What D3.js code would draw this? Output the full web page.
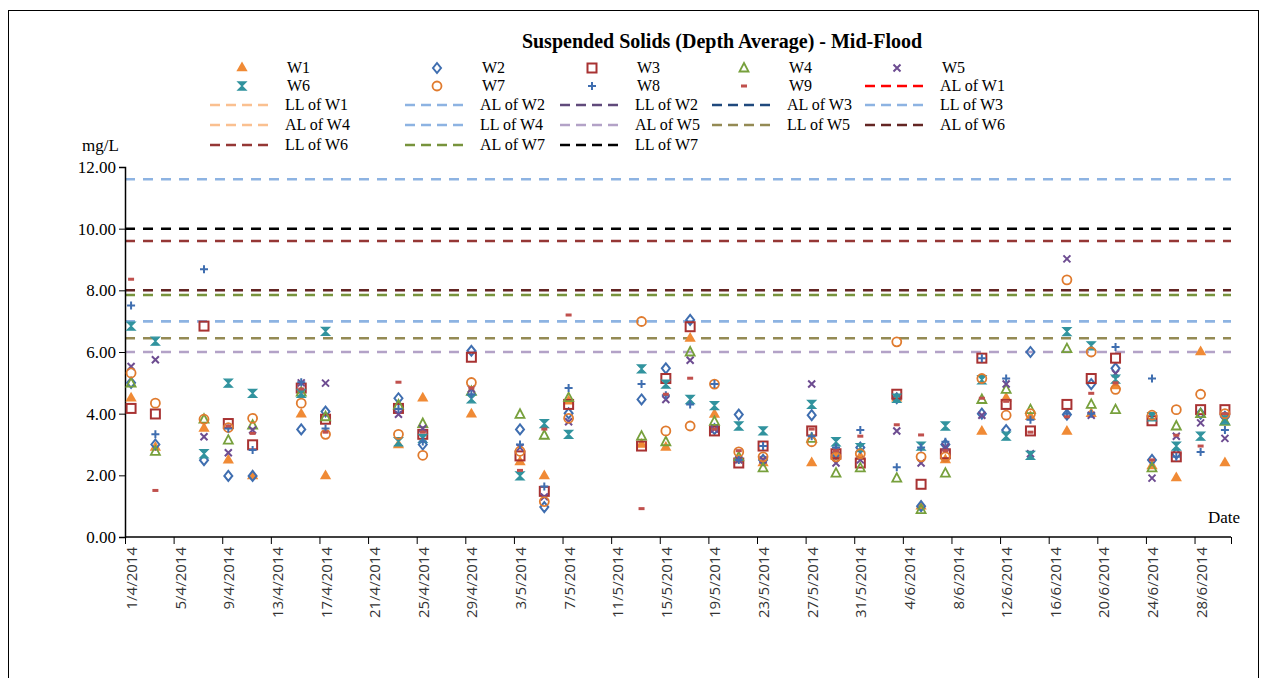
<!DOCTYPE html>
<html>
<head>
<meta charset="utf-8">
<script src="https://cdn.jsdelivr.net/npm/d3@7"></script>
<style>
body { margin: 0; background: #fff; }
svg { font-family: "Liberation Serif", "Times New Roman", serif; }
</style>
</head>
<body>
<svg id="chart" width="1268" height="678"></svg>
<script>
// sampling days, counted from 1/4/2014
var days = [0, 2, 6, 8, 10, 14, 16, 22, 24, 28, 32, 34, 36, 42, 44, 46, 48, 50, 52, 56, 58, 60, 63, 65, 67, 70, 72, 74, 77, 79, 81, 84, 86, 88, 90];

var W1 = [4.5, 2.9, 3.52, 2.49, 1.98, 3.98, 1.98, 2.98, 4.5, 3.98, 2.43, 1.98, 4.4, 3.0, 2.9, 6.44, 3.97, 2.5, 2.4, 2.4, 2.6, 2.6, 4.5, 1.0, 2.5, 3.42, 4.5, 3.9, 3.42, 4.0, 4.9, 2.3, 1.91, 6.0, 2.4];
var W2 = [5.0, 3.0, 2.49, 1.98, 1.98, 3.49, 4.07, 4.5, 3.0, 6.04, 3.49, 0.97, 4.01, 4.46, 5.47, 7.04, 3.5, 3.97, 2.5, 3.95, 2.7, 2.9, 4.5, 1.0, 3.0, 4.0, 3.47, 6.0, 3.97, 4.96, 5.47, 2.5, 2.7, 4.0, 3.9];
var W3 = [4.17, 3.99, 6.84, 3.68, 2.99, 4.83, 3.82, 4.17, 3.33, 5.83, 2.63, 1.48, 4.3, 2.95, 5.14, 6.82, 3.44, 2.4, 2.95, 3.44, 2.7, 2.4, 4.63, 1.71, 2.7, 5.8, 4.3, 3.44, 4.3, 5.14, 5.8, 3.77, 2.6, 4.13, 4.13];
var W4 = [4.99, 2.78, 3.82, 3.14, 3.63, 4.7, 3.9, 4.28, 3.68, 4.72, 3.98, 3.3, 4.52, 3.27, 3.09, 6.0, 3.75, 2.6, 2.24, 3.2, 2.07, 2.24, 1.91, 0.89, 2.07, 4.46, 4.79, 4.13, 6.11, 4.3, 4.13, 2.24, 3.6, 4.0, 3.75];
var W5 = [5.53, 5.75, 3.25, 2.73, 3.47, 5.0, 4.99, 3.98, 3.52, 4.8, 2.9, 1.3, 3.74, null, 4.46, 5.73, 3.5, 2.5, 2.5, 4.96, 2.4, 2.5, 3.44, 2.4, 2.92, 3.95, 4.96, 2.7, 9.02, 3.95, 5.3, 1.91, 3.27, 3.7, 3.2];
var W6 = [6.84, 6.35, 2.7, 4.99, 4.66, 4.66, 6.67, 3.09, 3.2, 4.48, 1.98, 3.68, 3.33, 5.45, 4.96, 4.46, 4.26, 3.6, 3.44, 4.3, 3.09, 2.9, 4.5, 2.95, 3.6, 5.1, 3.27, 2.65, 6.66, 6.2, 5.12, 3.9, 2.95, 3.27, 3.8];
var W7 = [5.32, 4.34, 3.82, 3.55, 3.85, 4.34, 3.33, 3.33, 2.65, 5.01, 2.78, 1.15, 3.85, 6.99, 3.44, 3.6, 4.96, 2.76, 2.6, 3.09, 2.6, 2.7, 6.33, 2.6, 2.6, 5.14, 3.95, 4.0, 8.34, 6.0, 4.79, 3.95, 4.13, 4.63, 4.0];
var W8 = [7.51, 3.33, 8.68, 3.52, 2.82, 5.02, 3.52, 4.15, 3.1, 4.63, 3.0, 1.64, 4.83, 4.96, 4.6, 4.3, 4.96, 2.5, 2.95, 3.27, 2.9, 3.47, 2.26, 2.9, 3.09, 5.8, 5.14, 3.8, 4.0, 4.0, 6.16, 5.14, 2.6, 2.76, 3.47];
var W9 = [8.36, 1.51, null, 3.6, 3.36, 4.8, 3.4, 5.02, 3.4, 4.83, 2.16, 3.5, 7.2, 0.92, 4.63, 5.15, 3.5, 2.8, null, 3.5, 2.8, 3.27, 3.64, 3.31, 2.8, 4.5, 4.4, 3.4, 3.9, 4.66, 5.0, 2.5, 3.3, 2.95, 4.0];

var seriesNames = ["W1", "W2", "W3", "W4", "W5", "W6", "W7", "W8", "W9"];
var seriesData = [W1, W2, W3, W4, W5, W6, W7, W8, W9];

// action / limit levels (null = above axis range)
var limitNames = ["AL of W1", "LL of W1", "AL of W2", "LL of W2", "AL of W3", "LL of W3", "AL of W4",
  "LL of W4", "AL of W5", "LL of W5", "AL of W6", "LL of W6", "AL of W7", "LL of W7"];
var limitValues = [null, null, 7.0, null, null, 11.6, null, 7.0, 6.0, 6.45, 8.0, 9.6, 7.85, 10.0];

var yTicks = [0, 2, 4, 6, 8, 10, 12];
var tickDays = d3.range(0, 89, 4);

var svg = d3.select("#chart");
var x = d3.scaleLinear().domain([0, 91]).range([125, 1231]);
var y = d3.scaleLinear().domain([0, 12]).range([537, 167]);
var startDate = new Date(2014, 3, 1);
function dayLabel(d) {
  var dt = d3.timeDay.offset(startDate, d);
  return dt.getDate() + "/" + (dt.getMonth() + 1) + "/" + dt.getFullYear();
}

svg.append("rect").attr("x", 8.5).attr("y", 10.5).attr("width", 1250).attr("height", 680)
  .attr("fill", "none").attr("stroke", "#000").attr("stroke-width", 1);

svg.append("text").attr("x", 722).attr("y", 48).attr("text-anchor", "middle")
  .attr("font-weight", "bold").attr("font-size", 20).text("Suspended Solids (Depth Average) - Mid-Flood");

var markColors = ["#f08a35", "#3f6eb0", "#a83232", "#77a03c", "#6d4c91", "#31939e", "#e07b2e", "#3f6eb0", "#c0504d"];
var lineColors = ["#ff0000", "#fac090", "#8db3e2", "#604a7b", "#1f497d", "#8db3e2", "#fac090",
  "#8db3e2", "#b3a2c7", "#948a54", "#632523", "#953735", "#77933c", "#000000"];

function drawMarker(g, i, cx, cy) {
  var c = markColors[i];
  var sym = null;
  if (i === 0) sym = g.append("path").attr("d", d3.symbol(d3.symbolTriangle, 55)()).attr("fill", c);
  if (i === 1) sym = g.append("path").attr("d", "M0,-5L4,0L0,5L-4,0Z").attr("fill", "none").attr("stroke", c).attr("stroke-width", 2);
  if (i === 2) sym = g.append("rect").attr("x", -4.5).attr("y", -4.5).attr("width", 9).attr("height", 9).attr("fill", "none").attr("stroke", c).attr("stroke-width", 2);
  if (i === 3) sym = g.append("path").attr("d", "M0,-5L4.5,3.5L-4.5,3.5Z").attr("fill", "none").attr("stroke", c).attr("stroke-width", 1.8);
  if (i === 4) sym = g.append("path").attr("d", "M-3.5,-3.5L3.5,3.5M3.5,-3.5L-3.5,3.5").attr("stroke", c).attr("stroke-width", 2);
  if (i === 5) sym = g.append("path").attr("d", "M-4,-4L4,-4L-4,4L4,4Z").attr("fill", c).attr("stroke", c).attr("stroke-width", 1.3);
  if (i === 6) sym = g.append("circle").attr("r", 4.5).attr("fill", "none").attr("stroke", c).attr("stroke-width", 1.8);
  if (i === 7) sym = g.append("path").attr("d", "M-4,0L4,0M0,-4L0,4").attr("stroke", c).attr("stroke-width", 2);
  if (i === 8) sym = g.append("rect").attr("x", -3).attr("y", -1.5).attr("width", 6).attr("height", 3).attr("fill", c);
  sym.attr("transform", "translate(" + cx + "," + cy + ")");
}

// legend
var colX = [210, 405, 560, 712, 865];
var rowY = [68, 86, 105, 125, 145];
seriesNames.forEach(function(name, i) {
  var col = i % 5, row = Math.floor(i / 5);
  var g = svg.append("g");
  drawMarker(g, i, colX[col] + 32, rowY[row]);
  svg.append("text").attr("x", colX[col] + 77).attr("y", rowY[row] + 5).attr("font-size", 16).text(name);
});
limitNames.forEach(function(name, k) {
  var idx = k + 9, col = idx % 5, row = Math.floor(idx / 5);
  svg.append("line").attr("x1", colX[col]).attr("x2", colX[col] + 62)
    .attr("y1", rowY[row]).attr("y2", rowY[row])
    .attr("stroke", lineColors[k]).attr("stroke-width", 2.5).attr("stroke-dasharray", "10,6");
  svg.append("text").attr("x", colX[col] + 75).attr("y", rowY[row] + 5).attr("font-size", 16).text(name);
});

// limit lines
limitValues.forEach(function(v, k) {
  if (v === null) return;
  svg.append("line").attr("x1", x(0)).attr("x2", x(91)).attr("y1", y(v)).attr("y2", y(v))
    .attr("stroke", lineColors[k]).attr("stroke-width", 2.5).attr("stroke-dasharray", "10,8");
});

// axes
var yAxis = svg.append("g").attr("transform", "translate(125,0)")
  .call(d3.axisLeft(y).tickValues(yTicks).tickSize(6).tickFormat(d3.format(".2f")));
yAxis.attr("font-family", null).attr("font-size", null);
yAxis.selectAll("text").attr("font-size", 17).attr("fill", "#000");
yAxis.select(".domain").attr("stroke-width", 1.5);

var xAxis = svg.append("g").attr("transform", "translate(0,537)")
  .call(d3.axisBottom(x).tickValues(tickDays.concat([91])).tickSize(7).tickFormat(""));
xAxis.select(".domain").attr("d", "M125,0H1231").attr("stroke-width", 1.5);
tickDays.forEach(function(d) {
  svg.append("text").attr("transform", "translate(" + (x(d + 0.5) + 6) + ",547) rotate(-90)")
    .attr("text-anchor", "end").style("font-family", "'Open Sans', sans-serif").attr("font-size", 15)
    .attr("fill", "#333").text(dayLabel(d));
});

svg.append("text").attr("x", 82).attr("y", 151).attr("font-size", 17).text("mg/L");
svg.append("text").attr("x", 1208).attr("y", 523).attr("font-size", 17).text("Date");

// points
seriesData.forEach(function(arr, i) {
  var g = svg.append("g");
  arr.forEach(function(v, j) {
    if (v === null) return;
    drawMarker(g, i, x(days[j] + 0.5), y(v));
  });
});
</script>
</body>
</html>
